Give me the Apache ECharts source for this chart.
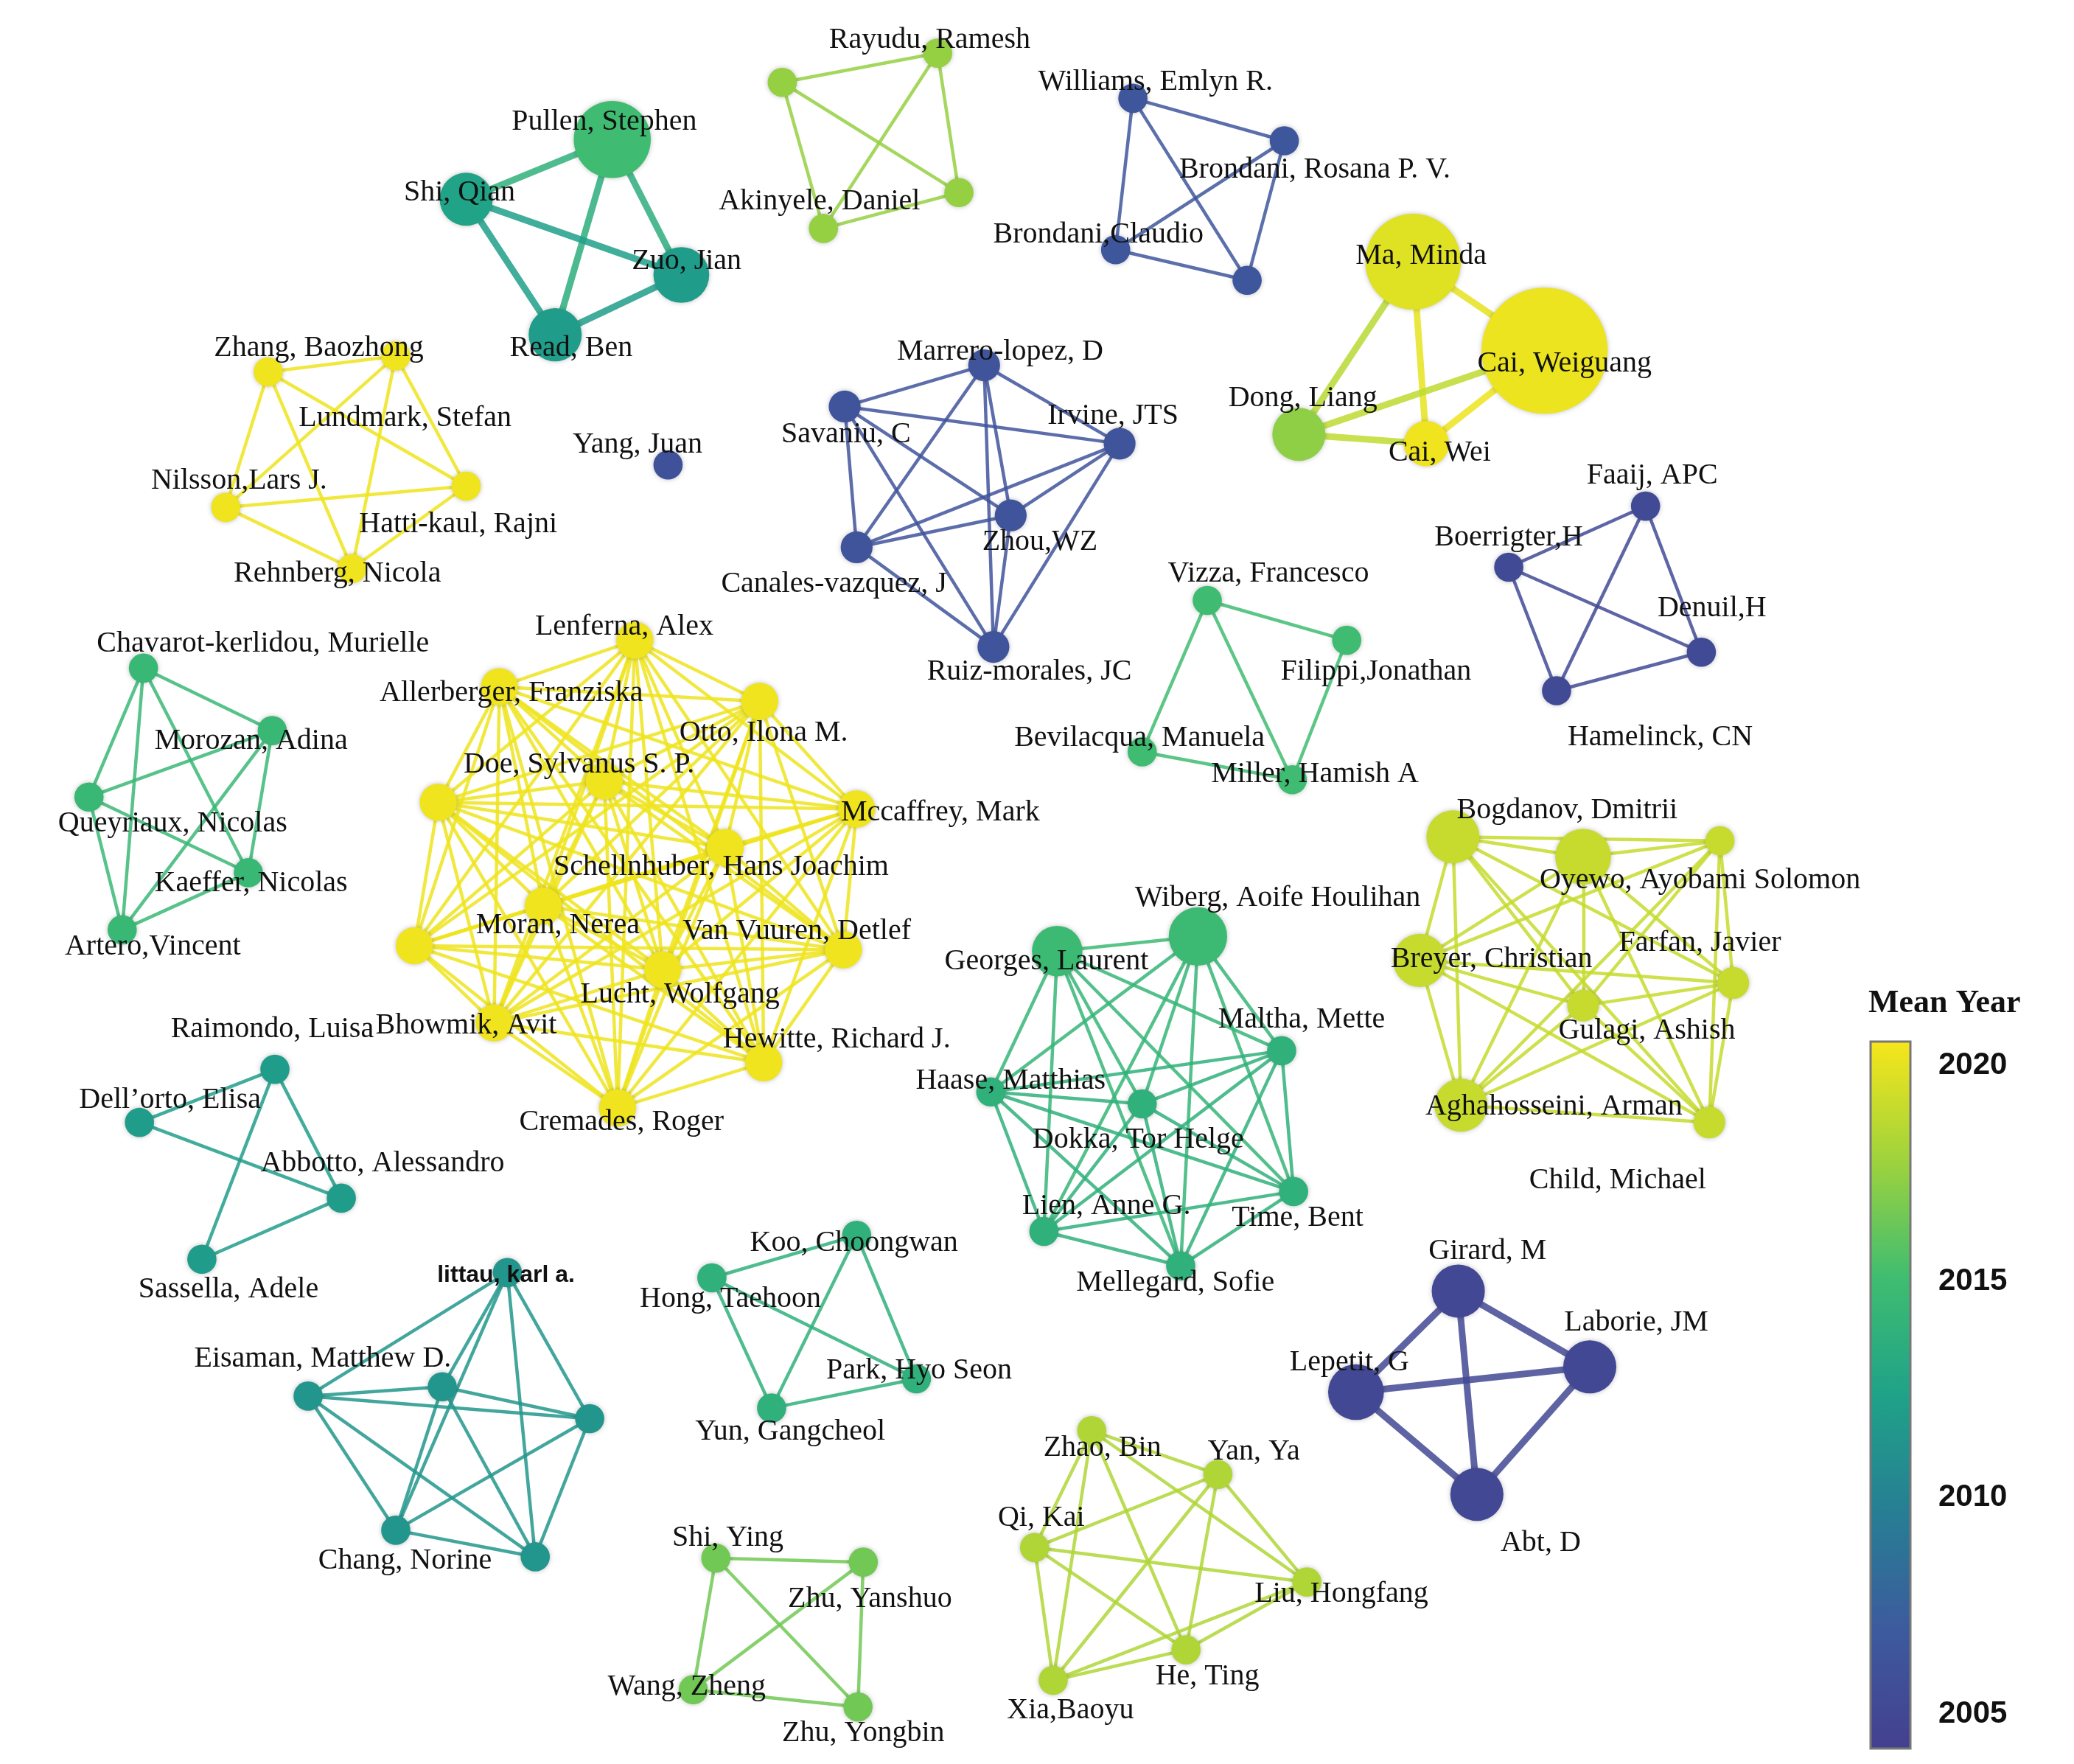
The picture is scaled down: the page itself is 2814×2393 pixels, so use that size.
<!DOCTYPE html>
<html><head><meta charset="utf-8">
<script src="https://cdn.jsdelivr.net/npm/echarts@6/dist/echarts.min.js"></script>
<style>html,body{margin:0;padding:0;background:#fff}#c{width:2814px;height:2393px}</style>
</head><body><div id="c"></div>
<script>
const nodeNames = ["Pullen, Stephen","Shi, Qian","Zuo, Jian","Read, Ben",
"Rayudu, Ramesh","u_r1","u_r2","Akinyele, Daniel",
"Williams, Emlyn R.","Brondani, Rosana P. V.","Brondani,Claudio","u_w1",
"Ma, Minda","Cai, Weiguang","Dong, Liang","Cai, Wei",
"Zhang, Baozhong","Lundmark, Stefan","Hatti-kaul, Rajni","Nilsson,Lars J.","Rehnberg, Nicola",
"Yang, Juan",
"Marrero-lopez, D","Savaniu, C","Irvine, JTS","Zhou,WZ","Canales-vazquez, J","Ruiz-morales, JC",
"Faaij, APC","Boerrigter,H","Denuil,H","Hamelinck, CN",
"Vizza, Francesco","Filippi,Jonathan","Bevilacqua, Manuela","Miller, Hamish A",
"Chavarot-kerlidou, Murielle","Morozan, Adina","Queyriaux, Nicolas","Kaeffer, Nicolas","Artero,Vincent",
"Lenferna, Alex","Allerberger, Franziska","Otto, Ilona M.","Doe, Sylvanus S. P.","u_b1","Mccaffrey, Mark","Schellnhuber, Hans Joachim","Moran, Nerea","u_b2","Van Vuuren, Detlef","Lucht, Wolfgang","Bhowmik, Avit","Hewitte, Richard J.","Cremades, Roger",
"Bogdanov, Dmitrii","Oyewo, Ayobami Solomon","u_k1","Breyer, Christian","Farfan, Javier","Gulagi, Ashish","Aghahosseini, Arman","Child, Michael",
"Wiberg, Aoife Houlihan","Georges, Laurent","Maltha, Mette","Haase, Matthias","Dokka, Tor Helge","Time, Bent","Lien, Anne G.","Mellegard, Sofie",
"Raimondo, Luisa","Dell\u2019orto, Elisa","Abbotto, Alessandro","Sassella, Adele",
"littau, karl a.","Eisaman, Matthew D.","u_l1","u_l2","Chang, Norine","u_l3",
"Koo, Choongwan","Hong, Taehoon","Park, Hyo Seon","Yun, Gangcheol",
"Girard, M","Laborie, JM","Lepetit, G","Abt, D",
"Zhao, Bin","Yan, Ya","Qi, Kai","Liu, Hongfang","He, Ting","Xia,Baoyu",
"Shi, Ying","Zhu, Yanshuo","Wang, Zheng","Zhu, Yongbin"];
const nodeX = [461,351,513,418, 706,589,722,620, 853,967,840,939, 1064,1163,978,1074, 202,298,351,170,265, 503,
741,636,843,761,645,748, 1239,1136,1281,1172, 909,1014,860,973, 108,205,67,187,92,
478,376,572,330,455,645,546,409,312,635,499,372,575,465,
1094,1192,1295,1069,1305,1192,1100,1287, 902,796,965,746,860,974,786,889,
207,105,257,152, 382,232,333,444,298,403, 645,536,690,581, 1098,1197,1021,1112,
822,917,779,984,893,793, 539,650,522,646];
const nodeY = [105,150,207,252, 40,62,145,172, 74,106,188,211, 197,264,327,334, 280,268,366,382,428, 350,
275,306,334,388,412,487, 381,427,491,520, 452,482,566,587, 503,550,600,657,700,
482,517,528,604,588,609,638,682,712,715,730,770,800,834,
630,645,633,723,740,757,832,845, 705,716,791,822,831,897,927,953,
805,845,902,948, 958,1051,1044,1068,1152,1172, 930,962,1038,1060, 972,1029,1048,1125,
1077,1110,1165,1191,1242,1265, 1173,1176,1272,1285];
const nodeSize = [58,40,42,40, 22,22,22,22, 22,22,22,22, 72,95,40,34, 22,22,22,22,22, 22,
24,24,24,24,24,24, 22,22,22,22, 22,22,22,22, 22,22,22,22,22,
28,28,28,28,28,28,28,28,28,28,28,28,28,28,
40,42,22,40,24,24,40,24, 44,38,22,22,22,22,22,22,
22,22,22,22, 22,22,22,22,22,22, 22,22,22,22, 40,40,42,40,
22,22,22,22,22,22, 22,22,22,22];
const nodeYear = [2015,2012.5,2012,2012, 2017.5,2017.5,2017.5,2017.5, 2006.5,2006.5,2006.5,2006.5, 2019.8,2020.2,2017.3,2020.3, 2020.3,2020.3,2020.3,2020.3,2020.3, 2006,
2006.3,2006.3,2006.3,2006.3,2006.3,2006.3, 2005.3,2005.3,2005.3,2005.3, 2015,2015,2015,2015, 2014.5,2014.5,2014.5,2014.5,2014.5,
2020.3,2020.3,2020.3,2020.3,2020.3,2020.3,2020.3,2020.3,2020.3,2020.3,2020.3,2020.3,2020.3,2020.3,
2019,2019,2019,2019,2019,2019,2019,2019, 2014.8,2014.8,2013.8,2013.8,2013.8,2013.8,2013.8,2013.8,
2012,2012,2012,2012, 2011.5,2011.5,2011.5,2011.5,2011.5,2011.5, 2013.8,2013.8,2013.8,2013.8, 2005,2005,2005,2005,
2018.3,2018.3,2018.3,2018.3,2018.3,2018.3, 2016.5,2016.5,2016.5,2016.5];
const labelDX = [-6,-5,4,12, -6,0,0,-3, 17,23,-13,0, 6,15,3,10, 38,7,-6,10,-11, -23,
12,1,-5,22,-17,27, 5,0,8,78, 46,22,-2,17, 90,-16,63,2,23,
-8,9,3,106,0,63,-3,11,0,-35,13,-21,55,3,
86,88,0,54,-25,48,70,-69, 60,-8,15,15,-3,3,47,-4,
-2,23,31,20, -1,11,0,0,7,0, -2,14,2,14, 22,35,-5,48,
8,27,5,26,16,13, 9,5,-5,4];
const labelDY = [-13,-5,-10,10, -10,0,0,-20, -12,22,-11,0, -4,10,-27,7, -18,47,29,-20,4, -15,
-10,21,-21,20,28,19, -23,-22,-33,35, -20,24,-10,-4, -18,8,20,8,13,
-10,5,24,-28,0,3,15,15,0,-14,19,2,-17,11,
-20,18,0,-1,-30,19,1,44, -29,8,-23,-8,27,20,-19,13,
-30,-17,-26,23, 2,-28,0,0,23,0, 6,16,-6,18, -30,-33,-22,37,
13,-17,-22,9,20,23, -15,28,-2,20];

const clusters = [
 ["Pullen, Stephen","Shi, Qian","Zuo, Jian","Read, Ben"],
 ["Rayudu, Ramesh","u_r1","u_r2","Akinyele, Daniel"],
 ["Williams, Emlyn R.","Brondani, Rosana P. V.","Brondani,Claudio","u_w1"],
 ["Ma, Minda","Cai, Weiguang","Dong, Liang","Cai, Wei"],
 ["Zhang, Baozhong","Lundmark, Stefan","Hatti-kaul, Rajni","Nilsson,Lars J.","Rehnberg, Nicola"],
 ["Marrero-lopez, D","Savaniu, C","Irvine, JTS","Zhou,WZ","Canales-vazquez, J","Ruiz-morales, JC"],
 ["Faaij, APC","Boerrigter,H","Denuil,H","Hamelinck, CN"],
 ["Vizza, Francesco","Filippi,Jonathan","Bevilacqua, Manuela","Miller, Hamish A"],
 ["Chavarot-kerlidou, Murielle","Morozan, Adina","Queyriaux, Nicolas","Kaeffer, Nicolas","Artero,Vincent"],
 ["Lenferna, Alex","Allerberger, Franziska","Otto, Ilona M.","Doe, Sylvanus S. P.","u_b1","Mccaffrey, Mark","Schellnhuber, Hans Joachim","Moran, Nerea","u_b2","Van Vuuren, Detlef","Lucht, Wolfgang","Bhowmik, Avit","Hewitte, Richard J.","Cremades, Roger"],
 ["Bogdanov, Dmitrii","Oyewo, Ayobami Solomon","u_k1","Breyer, Christian","Farfan, Javier","Gulagi, Ashish","Aghahosseini, Arman","Child, Michael"],
 ["Wiberg, Aoife Houlihan","Georges, Laurent","Maltha, Mette","Haase, Matthias","Dokka, Tor Helge","Time, Bent","Lien, Anne G.","Mellegard, Sofie"],
 ["Raimondo, Luisa","Dell\u2019orto, Elisa","Abbotto, Alessandro","Sassella, Adele"],
 ["littau, karl a.","Eisaman, Matthew D.","u_l1","u_l2","Chang, Norine","u_l3"],
 ["Koo, Choongwan","Hong, Taehoon","Park, Hyo Seon","Yun, Gangcheol"],
 ["Girard, M","Laborie, JM","Lepetit, G","Abt, D"],
 ["Zhao, Bin","Yan, Ya","Qi, Kai","Liu, Hongfang","He, Ting","Xia,Baoyu"],
 ["Shi, Ying","Zhu, Yanshuo","Wang, Zheng","Zhu, Yongbin"]
];
const missingEdges = [["Dell\u2019orto, Elisa","Sassella, Adele"],["Bevilacqua, Manuela","Filippi,Jonathan"]];
const thickClusters = [0,3,15];
const yearTicks = [2005,2010,2015,2020];
const barColors = ['#44408f','#3d5a9e','#277e94','#1fa288','#40bd70','#a0d33c','#f7e61a'];
const barMin = 2004.2, barMax = 2020.55;

const S = 1.802;
const colorOf = y => echarts.color.lerp(Math.max(0,Math.min(1,(y-barMin)/(barMax-barMin))), barColors);
const yearOf = {};
nodeNames.forEach((n,i)=>yearOf[n]=nodeYear[i]);
const minX = Math.min(...nodeX), maxX = Math.max(...nodeX), minY = Math.min(...nodeY), maxY = Math.max(...nodeY);
const nodes = nodeNames.map((n,i)=>({
  name:n, x:nodeX[i], y:nodeY[i], value:nodeYear[i], symbolSize:nodeSize[i]*S,
  itemStyle:{color:colorOf(nodeYear[i])},
  label:{show:!n.startsWith('u_'), position:'inside', offset:[labelDX[i]*S, labelDY[i]*S],
    ...(n==="littau, karl a." ? {fontFamily:'Liberation Sans', fontWeight:'bold', fontSize:32} : {})}
}));
const links = [];
clusters.forEach((c,ci)=>{
  for(let a=0;a<c.length;a++) for(let b=a+1;b<c.length;b++){
    if(missingEdges.some(m=>(m[0]===c[a]&&m[1]===c[b])||(m[1]===c[a]&&m[0]===c[b]))) continue;
    links.push({source:c[a], target:c[b], lineStyle:{width: thickClusters.includes(ci)?9:4.5, color:colorOf((yearOf[c[a]]+yearOf[c[b]])/2)}});
  }
});
const barTop=1413, barH=959, barLeft=2538, barW=54;
const chart = echarts.init(document.getElementById('c'));
chart.setOption({
  backgroundColor:'#fff', animation:false,
  grid:{left:barLeft, top:barTop, width:barW, height:barH},
  xAxis:{type:'value', show:false},
  yAxis:{type:'value', position:'right', min:barMin, max:barMax,
    axisLine:{show:false}, axisTick:{show:false}, splitLine:{show:false},
    axisLabel:{customValues:yearTicks, formatter:v=>String(v), margin:38, color:'#111', fontFamily:'Liberation Sans', fontWeight:'bold', fontSize:42}},
  graphic:[
    {type:'rect', shape:{x:barLeft, y:barTop, width:barW, height:barH},
     style:{fill:new echarts.graphic.LinearGradient(0,1,0,0, barColors.map((c,i)=>({offset:i/(barColors.length-1), color:c}))), stroke:'#777', lineWidth:3}},
    {type:'text', left:2535, top:1340, style:{text:'Mean Year', font:'bold 44px "Liberation Serif"', fill:'#111'}}
  ],
  series:[{
    type:'graph', layout:'none', roam:false,
    left:minX*S, top:minY*S, width:(maxX-minX)*S, height:(maxY-minY)*S,
    data:nodes, links:links,
    itemStyle:{shadowBlur:6, shadowColor:'rgba(0,0,0,0.25)'},
    lineStyle:{opacity:0.85, curveness:0},
    label:{color:'#111', fontFamily:'Liberation Serif', fontSize:40},
    emphasis:{disabled:true}, z:2
  }]
});
</script></body></html>
